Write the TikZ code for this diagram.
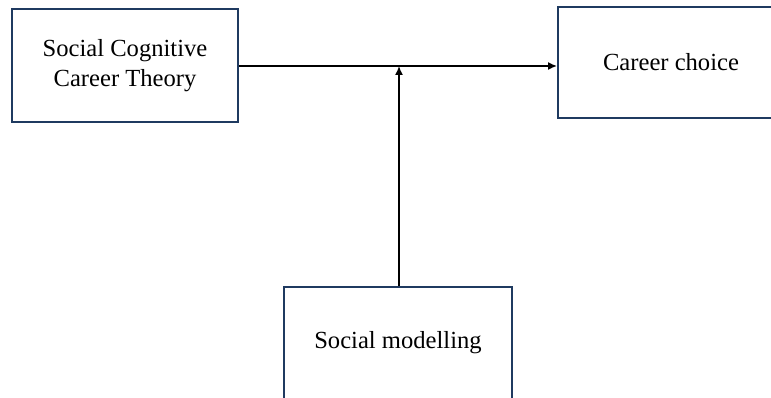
\documentclass[tikz,border=0pt]{standalone}
\usepackage{fontspec}
\setmainfont{Liberation Serif}
\usetikzlibrary{arrows.meta}
\definecolor{boxborder}{HTML}{1F3A60}
\begin{document}
\begin{tikzpicture}[x=1pt,y=-1pt,
  box/.style={draw=boxborder,line width=2pt,fill=white,inner sep=0pt,align=center,
    font=\fontsize{24.6}{29.5}\selectfont},
  conn/.style={draw=black,line width=1.5pt,-{Latex[length=9pt,width=8pt]}}]
\useasboundingbox (0,0) rectangle (771,398);
\clip (0,0) rectangle (771,398);
\node[box,minimum width=226pt,minimum height=113pt] (sct) at (125,65.5) {Social Cognitive\\Career Theory};
\node[box,minimum width=226pt,minimum height=111pt] (cc) at (671,62.5) {Career choice};
\node[box,minimum width=228pt,minimum height=112pt] (sm) at (398,343) {Social modelling};
\coordinate (j) at (399,66);
\draw[conn] (sct.east |- j) -- (cc.west |- j);
\draw[conn] (sm.north -| j) -- (j);
\end{tikzpicture}
\end{document}
